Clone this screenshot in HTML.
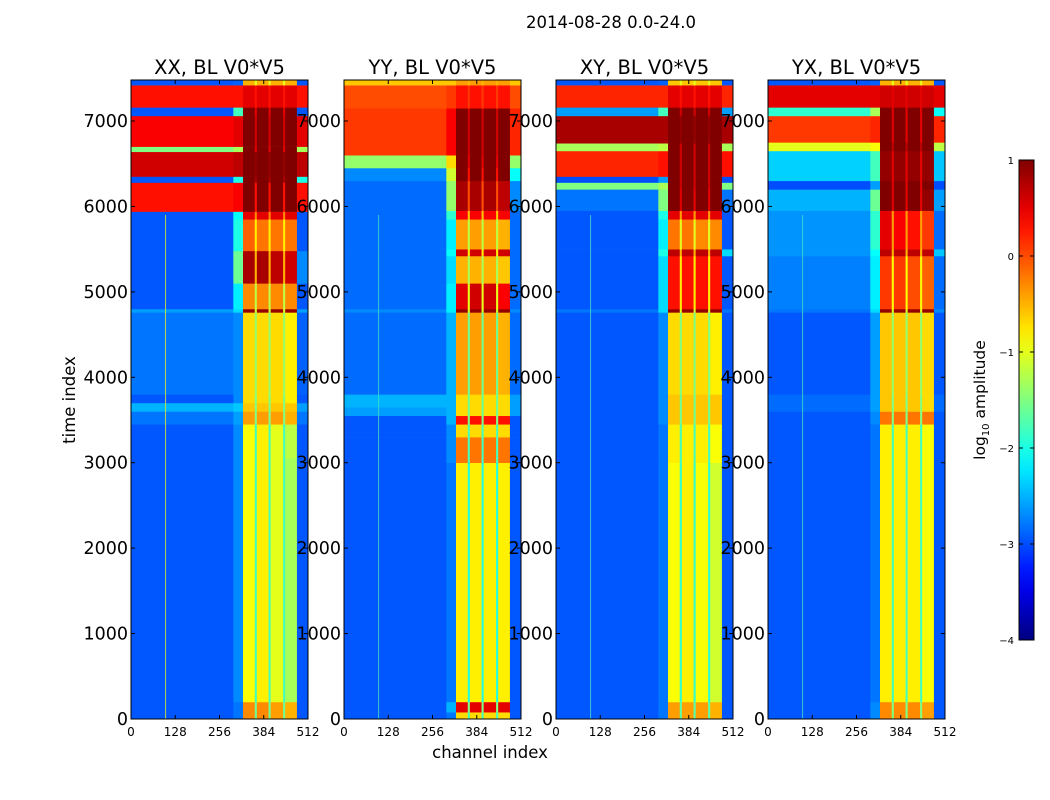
<!DOCTYPE html>
<html><head><meta charset="utf-8"><style>
body{margin:0;background:#fff;}
svg{display:block;font-family:"DejaVu Sans","Liberation Sans",sans-serif;}
</style></head><body>
<svg id="fig" width="1050" height="800" viewBox="0 0 1050 800">
<rect x="0" y="0" width="1050" height="800" fill="#fff"/>
<text x="611" y="28" font-size="16.5" text-anchor="middle">2014-08-28 0.0-24.0</text>
<text x="490" y="758" font-size="16.5" text-anchor="middle">channel index</text>
<text x="75" y="400" font-size="16.5" text-anchor="middle" transform="rotate(-90 75 400)">time index</text>
<g id="panels"></g>
<g id="cbar"></g>
</svg>
<script>
// channel bin edges: bg, shoulder, s1, gap, s2, gap, s3, gap, s4, bgR
const channelEdges = [0, 296, 324, 358, 364, 398, 404, 440, 446, 480, 512];
const panelTitles = ["XX, BL V0*V5", "YY, BL V0*V5", "XY, BL V0*V5", "YX, BL V0*V5"];
const xTicks = [0, 128, 256, 384, 512];
const yTicks = [0, 1000, 2000, 3000, 4000, 5000, 6000, 7000];
const cbarTicks = [1, 0, -1, -2, -3, -4];
const lineChannels = [100];
// segments: [t0, t1, bg, shoulder, s1, gap, s2, s3, s4, bgRight]
const segXX = [
[0,200,-2.95,-2.8,-0.3,-1.6,-0.3,-0.4,-0.5,-2.95],
[200,3050,-2.95,-2.7,-0.9,-1.8,-0.8,-1.0,-1.3,-2.95],
[3050,3450,-2.95,-2.7,-0.9,-1.8,-0.8,-1.0,-1.2,-2.95],
[3450,3600,-2.8,-2.6,-0.4,-1.5,-0.4,-0.4,-0.5,-2.8],
[3600,3700,-2.5,-2.4,-0.6,-1.5,-0.6,-0.6,-0.6,-2.6],
[3700,3800,-2.95,-2.7,-0.7,-1.5,-0.7,-0.7,-0.8,-2.95],
[3800,4760,-2.8,-2.7,-0.7,-1.4,-0.7,-0.7,-0.8,-2.9],
[4760,4800,-2.6,-2.3,0.9,-1.0,0.9,0.9,0.9,-2.6],
[4800,5100,-2.95,-2.2,-0.3,-1.2,-0.3,-0.3,-0.3,-2.95],
[5100,5480,-2.95,-1.6,0.8,-0.5,0.8,0.7,0.6,-2.7],
[5480,5850,-2.95,-2.0,-0.1,-0.8,-0.2,-0.2,-0.2,-2.95],
[5850,5940,-2.95,-2.1,0.5,-0.3,0.5,0.5,0.5,-2.95],
[5940,6280,0.3,0.4,1.0,0.3,1.0,1.0,1.0,0.3],
[6280,6350,-2.95,-2.0,1.0,0.8,1.0,1.0,1.0,-2.0],
[6350,6640,0.6,0.7,1.0,0.9,1.0,1.0,1.0,0.7],
[6640,6700,-1.5,-1.3,1.0,0.5,1.0,1.0,1.0,-1.3],
[6700,7060,0.4,0.5,1.0,0.6,1.0,1.0,1.0,0.5],
[7060,7160,-2.95,-1.8,1.0,0.5,1.0,1.0,1.0,-2.95],
[7160,7420,0.3,0.3,0.5,0.3,0.5,0.5,0.5,0.3],
[7420,7480,-2.95,-2.9,-0.5,-1,-0.5,-0.5,-0.5,-2.95]];
const segYY = [
[0,80,-2.95,-2.8,-0.7,-1.8,-0.7,-0.7,-0.7,-2.95],
[80,200,-2.95,-2.5,0.5,-1.5,0.5,0.5,0.5,-2.95],
[200,3000,-2.95,-2.8,-0.8,-2.0,-0.8,-0.8,-0.8,-2.95],
[3000,3300,-2.95,-2.7,-0.2,-1.8,-0.2,-0.2,-0.2,-2.95],
[3300,3450,-2.95,-2.7,-0.7,-1.8,-0.7,-0.7,-0.7,-2.95],
[3450,3550,-2.95,-2.5,0.3,-1.5,0.3,0.3,0.3,-2.95],
[3550,3650,-2.6,-2.5,-0.7,-1.6,-0.7,-0.7,-0.7,-2.6],
[3650,3800,-2.5,-2.5,-0.7,-1.6,-0.7,-0.7,-0.7,-2.6],
[3800,4760,-2.85,-2.5,-0.4,-1.6,-0.4,-0.4,-0.5,-2.85],
[4760,4800,-2.7,-2.2,0.9,-1.0,0.9,0.9,0.9,-2.7],
[4800,5100,-2.85,-2.2,0.5,-1.0,0.6,0.6,0.4,-2.85],
[5100,5420,-2.85,-2.3,-0.5,-1.3,-0.5,-0.5,-0.6,-2.85],
[5420,5500,-2.85,-2.1,0.6,-0.8,0.6,0.6,0.6,-2.85],
[5500,5850,-2.85,-2.2,-0.4,-1.2,-0.4,-0.4,-0.5,-2.85],
[5850,5950,-2.85,-1.9,0.4,-0.6,0.4,0.4,0.4,-2.85],
[5950,6300,-2.85,-1.4,0.8,0.0,0.8,0.8,0.7,-2.7],
[6300,6450,-2.7,-1.1,1.0,0.3,1.0,1.0,1.0,-2.1],
[6450,6600,-1.4,-0.7,1.0,0.5,1.0,1.0,1.0,-1.4],
[6600,7150,0.1,0.4,1.0,0.6,1.0,1.0,1.0,0.2],
[7150,7420,0.0,0.1,0.3,0.1,0.3,0.3,0.3,0.0],
[7420,7480,-0.6,-0.6,-0.4,-0.5,-0.4,-0.4,-0.4,-0.6]];
const segXY = [
[0,200,-2.95,-2.8,-0.4,-1.7,-0.4,-0.4,-0.5,-2.95],
[200,3000,-2.95,-2.8,-0.9,-1.9,-0.8,-0.9,-1.1,-2.95],
[3000,3450,-2.95,-2.8,-0.8,-1.8,-0.8,-0.8,-0.9,-2.95],
[3450,3800,-2.95,-2.7,-0.6,-1.6,-0.6,-0.6,-0.6,-2.95],
[3800,4760,-2.95,-2.7,-0.7,-1.5,-0.7,-0.7,-0.8,-2.95],
[4760,4800,-2.8,-2.3,0.9,-1.0,0.9,0.9,0.9,-2.8],
[4800,5420,-2.95,-2.3,0.3,-0.8,0.3,0.3,0.3,-2.95],
[5420,5500,-2.95,-2.0,0.7,-0.5,0.7,0.7,0.7,-2.3],
[5500,5850,-2.95,-2.2,-0.2,-1.0,-0.2,-0.3,-0.3,-2.95],
[5850,5950,-2.95,-2.0,0.5,-0.4,0.5,0.5,0.5,-2.95],
[5950,6200,-2.8,-1.5,1.0,0.5,1.0,1.0,1.0,-2.8],
[6200,6280,-1.5,-1.3,1.0,0.6,1.0,1.0,1.0,-1.5],
[6280,6350,-3.0,-2.6,1.0,0.6,1.0,1.0,1.0,-3.0],
[6350,6650,0.2,0.3,1.0,0.6,1.0,1.0,1.0,0.3],
[6650,6740,-1.3,-1.2,1.0,0.6,1.0,1.0,1.0,-1.3],
[6740,7060,0.8,0.8,1.0,0.9,1.0,1.0,1.0,0.8],
[7060,7160,-2.6,-1.8,1.0,0.6,1.0,1.0,1.0,-2.6],
[7160,7420,0.2,0.2,0.5,0.3,0.5,0.5,0.5,0.2],
[7420,7480,-2.95,-2.9,-0.6,-1,-0.6,-0.6,-0.6,-2.95]];
const segYX = [
[0,200,-2.95,-2.7,-0.3,-1.5,-0.3,-0.3,-0.4,-2.95],
[200,3450,-2.95,-2.8,-0.8,-1.8,-0.8,-0.8,-0.9,-2.95],
[3450,3600,-2.95,-2.7,-0.2,-1.5,-0.2,-0.2,-0.2,-2.95],
[3600,3800,-2.85,-2.6,-0.6,-1.5,-0.6,-0.6,-0.7,-2.85],
[3800,4760,-2.95,-2.6,-0.6,-1.4,-0.6,-0.6,-0.7,-2.95],
[4760,4800,-2.8,-2.3,0.9,-1.0,0.9,0.9,0.9,-2.7],
[4800,5420,-2.75,-2.2,0.1,-0.9,0.1,0.0,-0.1,-2.85],
[5420,5500,-2.65,-2.1,0.7,-0.5,0.7,0.7,0.7,-2.4],
[5500,5950,-2.65,-1.9,0.5,-0.4,0.4,0.3,0.1,-2.85],
[5950,6200,-2.5,-1.6,1.0,0.5,1.0,1.0,0.9,-2.6],
[6200,6300,-3.0,-2.6,1.0,0.5,1.0,1.0,1.0,-3.0],
[6300,6650,-2.35,-1.8,0.9,0.5,0.9,0.9,0.9,-2.4],
[6650,6750,-1.0,-0.9,1.0,0.7,1.0,1.0,1.0,-1.2],
[6750,7060,0.1,0.2,1.0,0.5,1.0,1.0,1.0,0.2],
[7060,7160,-1.9,-1.3,1.0,0.5,1.0,1.0,1.0,-2.1],
[7160,7420,0.5,0.5,0.6,0.5,0.6,0.6,0.6,0.5],
[7420,7480,-2.95,-2.9,-0.5,-1,-0.5,-0.5,-0.5,-2.95]];
const panelSegments = [segXX, segYY, segXY, segYX];

const NS = "http://www.w3.org/2000/svg";
const panelLeft = [131, 344, 556, 768];
const panelW = 177, panelTop = 80, panelBottom = 719;
const tMax = 7480, chMax = 512, vMin = -4, vMax = 1;
function mk(tag, attrs, parent){const e=document.createElementNS(NS,tag);for(const k in attrs)e.setAttribute(k,attrs[k]);parent.appendChild(e);return e;}
function clip(x){return Math.max(0,Math.min(1,x));}
function jet(v){const x=clip((v-vMin)/(vMax-vMin));
  const r=clip(1.5-Math.abs(4*x-3)),g=clip(1.5-Math.abs(4*x-2)),b=clip(1.5-Math.abs(4*x-1));
  return `rgb(${Math.round(r*255)},${Math.round(g*255)},${Math.round(b*255)})`;}
function yScale(t){return panelBottom-(t/tMax)*(panelBottom-panelTop);}
const panelsG=document.getElementById('panels');
panelSegments.forEach((segs,p)=>{
  const x0=panelLeft[p];
  const xScale=c=>x0+(c/chMax)*panelW;
  const g=mk('g',{},panelsG);
  
  
  const colIdx=[2,3,4,5,6,5,7,5,8,9];
  segs.forEach(s=>{
    for(let b=0;b<channelEdges.length-1;b++){
      const xa=xScale(channelEdges[b]),xb=xScale(channelEdges[b+1]);
      const ya=yScale(s[1]),yb=yScale(s[0]);
      const r=mk('rect',{x:xa.toFixed(2),y:ya.toFixed(2),width:(xb-xa+0.3).toFixed(2),height:(yb-ya+0.3).toFixed(2),fill:jet(s[colIdx[b]])},g);
      
      
    }
  });
  lineChannels.forEach(c=>{
    const l=mk('line',{x1:xScale(c),x2:xScale(c),y1:yScale(0),y2:yScale(5900),stroke:p===0?'#e8f020':'#40e0c0','stroke-width':1,opacity:0.8},g);
    
    
  });
  const fr=mk('rect',{x:x0,y:panelTop,width:panelW,height:panelBottom-panelTop,fill:'none',stroke:'#000','stroke-width':1},g);
  
  
  const tt=mk('text',{x:x0+panelW/2,y:74,'font-size':19.5,'text-anchor':'middle'},g);
  tt.textContent=panelTitles[p];
  
  
  xTicks.forEach(v=>{
    const x=xScale(v);
    mk('line',{x1:x,x2:x,y1:panelBottom,y2:panelBottom-4,stroke:'#000'},g);
    mk('line',{x1:x,x2:x,y1:panelTop,y2:panelTop+4,stroke:'#000'},g);
    const t=mk('text',{x:x,y:736,'font-size':12,'text-anchor':'middle'},g);
    t.textContent=v;
    
    
  });
  yTicks.forEach(v=>{
    const y=yScale(v);
    mk('line',{x1:x0,x2:x0+4,y1:y,y2:y,stroke:'#000'},g);
    mk('line',{x1:x0+panelW,x2:x0+panelW-4,y1:y,y2:y,stroke:'#000'},g);
    const t=mk('text',{x:x0-3,y:y+6,'font-size':17.5,'text-anchor':'end'},g);
    t.textContent=v;
    
    
  });
});
const cb=document.getElementById('cbar');
const cbX=1019,cbW=15,cbTop=160,cbBot=640;
const defs=mk('defs',{},cb);
const grad=mk('linearGradient',{id:'jetg',x1:0,y1:1,x2:0,y2:0},defs);
for(let i=0;i<=20;i++){mk('stop',{offset:i/20,'stop-color':jet(vMin+(vMax-vMin)*i/20)},grad);}
const cr=mk('rect',{x:cbX,y:cbTop,width:cbW,height:cbBot-cbTop,fill:'url(#jetg)',stroke:'#000','stroke-width':1},cb);


cbarTicks.forEach(v=>{
  const y=cbBot-(v-vMin)/(vMax-vMin)*(cbBot-cbTop);
  mk('line',{x1:cbX,x2:cbX+4,y1:y,y2:y,stroke:'#000'},cb);
  mk('line',{x1:cbX+cbW,x2:cbX+cbW-4,y1:y,y2:y,stroke:'#000'},cb);
  const t=mk('text',{x:1014,y:y+4,'font-size':10,'text-anchor':'end'},cb);
  t.textContent=v<0?'\u2212'+Math.abs(v):String(v);
  
  
});
const cl=mk('text',{x:985,y:400,'font-size':15.5,'text-anchor':'middle',transform:'rotate(-90 985 400)'},cb);
cl.innerHTML='log<tspan font-size="10" dy="4">10</tspan><tspan dy="-4"> amplitude</tspan>';


</script>
</body></html>
